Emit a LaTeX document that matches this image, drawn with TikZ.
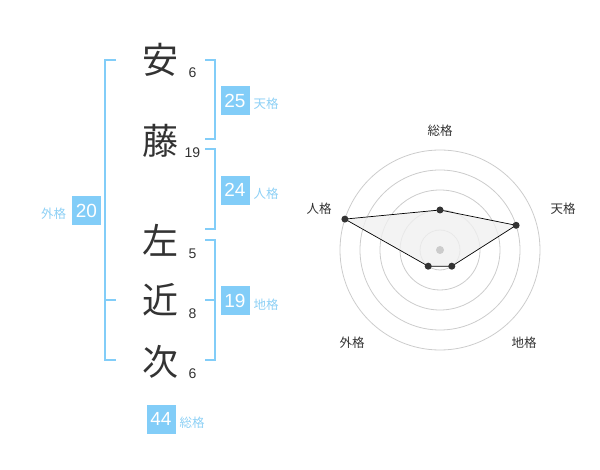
\documentclass[tikz,border=0pt]{standalone}
\usepackage{fontspec}
\setmainfont{Liberation Sans}
\newfontfamily\jp{Noto Sans CJK JP}
\definecolor{kblue}{HTML}{82CDF8}
\definecolor{klabel}{HTML}{8DD0F5}
\definecolor{ktext}{HTML}{333333}
\definecolor{kring}{HTML}{CCCCCC}
\definecolor{kfill}{HTML}{F0F0F0}
\tikzset{
  kanji/.style={inner sep=0pt, text=ktext, font=\jp\fontsize{36}{36}\selectfont},
  stroke/.style={inner sep=0pt, text=ktext, font=\fontsize{14}{14}\selectfont},
  valbox/.style={fill=kblue, text=white, minimum size=29pt, inner sep=0pt, font=\fontsize{19}{19}\selectfont},
  vallabel/.style={inner sep=0pt, text=klabel, font=\jp\fontsize{12.5}{12.5}\selectfont},
  bracket/.style={draw=kblue, line width=2pt},
  ring/.style={draw=kring, line width=0.8pt},
  radarlabel/.style={inner sep=0pt, text=ktext, font=\jp\fontsize{12.5}{12.5}\selectfont},
  dot/.style={circle, fill=ktext, inner sep=0pt, minimum size=7pt},
}
\begin{document}
\begin{tikzpicture}[x=1pt,y=-1pt]
\useasboundingbox (0,0) rectangle (600,470);
% kanji
\node[kanji] (k1) at (160,60) {安};
\node[kanji] (k2) at (160,141) {藤};
\node[kanji] (k3) at (160,240) {左};
\node[kanji] (k4) at (160,300) {近};
\node[kanji] (k5) at (160,362) {次};
\node[stroke] (s1) at (192.5,72.7) {6};
\node[stroke] (s2) at (192.5,152.7) {19};
\node[stroke] (s3) at (192.5,253.3) {5};
\node[stroke] (s4) at (192.5,313.3) {8};
\node[stroke] (s5) at (192.5,373.3) {6};
% brackets
\draw[bracket] (205,60) -- (215,60) -- (215,139) -- (205,139);
\draw[bracket] (205,149.5) -- (215,149.5) -- (215,229.5) -- (205,229.5);
\draw[bracket] (205,240) -- (215,240) -- (215,360) -- (205,360);
\draw[bracket] (205,300) -- (215,300);
\draw[bracket] (116,60) -- (105,60) -- (105,360) -- (116,360);
\draw[bracket] (105,300) -- (116,300);
% value boxes
\node[valbox] (v1) at (235,100.5) {25};
\node[vallabel] (l1) at (266,104) {天格};
\node[valbox] (v2) at (235,190.3) {24};
\node[vallabel] (l2) at (266,194) {人格};
\node[valbox] (v3) at (235,300.5) {19};
\node[vallabel] (l3) at (266,305) {地格};
\node[valbox] (v4) at (86.5,210.5) {20};
\node[vallabel] (l4) at (53.5,214) {外格};
\node[valbox] (v5) at (161,419) {44};
\node[vallabel] (l5) at (192,422.5) {総格};
% radar
\coordinate (c) at (440,250);
\foreach \r in {20,40,60,80,100} \draw[ring] (c) circle[radius=\r];
\coordinate (p1) at (440,210);
\coordinate (p2) at (516.1,225.3);
\coordinate (p3) at (451.8,266.2);
\coordinate (p4) at (428.2,266.2);
\coordinate (p5) at (344.9,219.1);
\filldraw[fill=kfill, fill opacity=0.8, draw=black, line width=0.7pt] (p1) -- (p2) -- (p3) -- (p4) -- (p5) -- cycle;
\fill[kring] (c) circle[radius=4];
\foreach \p in {p1,p2,p3,p4,p5} \node[dot] at (\p) {};
\node[radarlabel] (r1) at (440,130.5) {総格};
\node[radarlabel] (r2) at (563,209) {天格};
\node[radarlabel] (r3) at (319,209) {人格};
\node[radarlabel] (r4) at (352,342.5) {外格};
\node[radarlabel] (r5) at (524,342.5) {地格};
\end{tikzpicture}
\end{document}
